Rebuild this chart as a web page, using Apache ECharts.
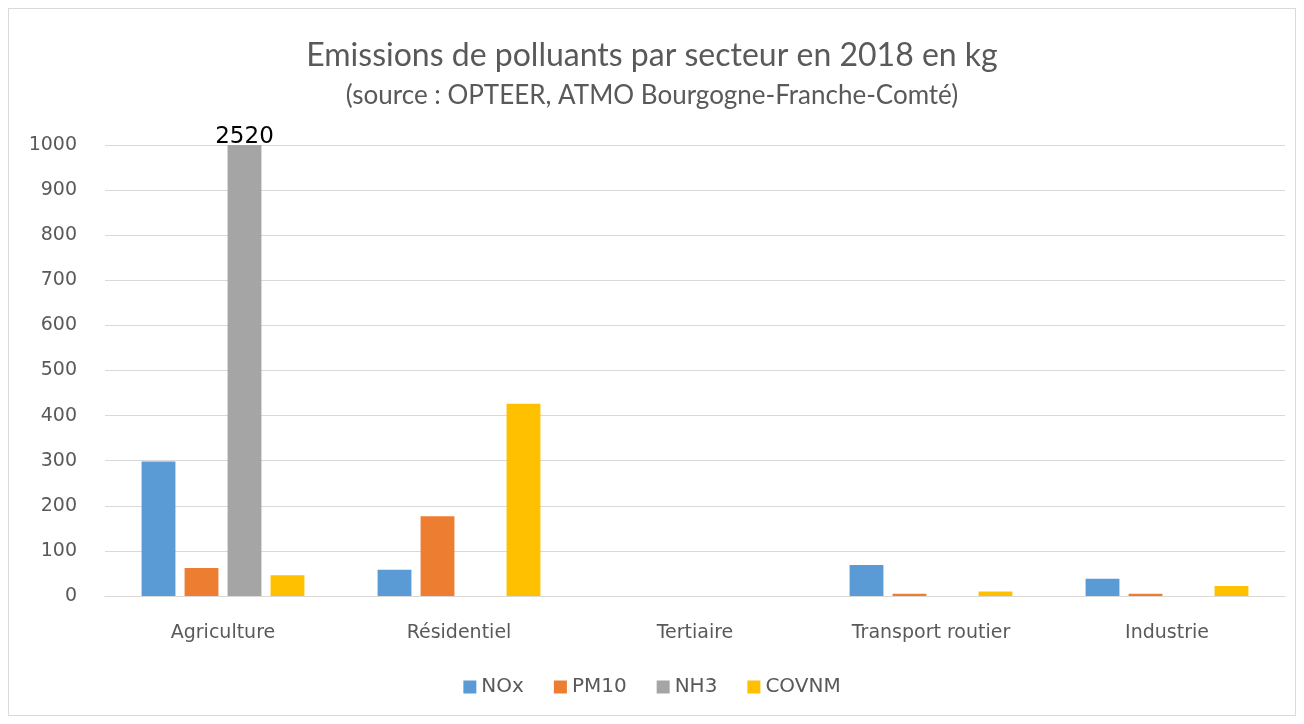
<!DOCTYPE html>
<html>
<head>
<meta charset="utf-8">
<script src="https://cdn.jsdelivr.net/npm/echarts@6/dist/echarts.min.js"></script>
<style>
  html, body { margin: 0; padding: 0; background: #ffffff; }
  #frame { position: absolute; left: 8px; top: 8px; width: 1288px; height: 708px; border: 1px solid #d9d9d9; box-sizing: border-box; }
  #chart { position: absolute; left: 0; top: 0; width: 1304px; height: 724px; }
</style>
</head>
<body>
<div id="frame"></div>
<div id="chart"></div>
<script>
// Sectors and pollutant emissions (kg), 2018
const categories = ['Agriculture', 'Résidentiel', 'Tertiaire', 'Transport routier', 'Industrie'];
const nox   = [298, 58, 0, 69, 38];
const pm10  = [62, 177, 0, 5, 5];
const nh3   = [2520, 0, 0, 0, 0];
const covnm = [46, 426, 0, 10, 22];
const yTicks = [0, 100, 200, 300, 400, 500, 600, 700, 800, 900, 1000];

const textColor = '#595959';
const font = 'DejaVu Sans';

// Bars above the axis maximum are cut at the top; the true value is printed on the cut bar
function withOverflowLabel(values) {
  return values.map(v => v > yTicks[yTicks.length - 1]
    ? { value: v, label: { show: true, position: 'top', distance: -4, color: '#000', fontSize: 23, fontFamily: 'DejaVu Sans', formatter: String(v) } }
    : v);
}

const chart = echarts.init(document.getElementById('chart'));
chart.setOption({
  animation: false,
  title: [
    { text: 'Emissions de polluants par secteur en 2018 en kg', left: 'center', top: 35,
      textStyle: { color: textColor, fontSize: 32, fontWeight: 'normal', fontFamily: 'Lato' } },
    { text: '(source : OPTEER, ATMO Bourgogne-Franche-Comté)', left: 'center', top: 78,
      textStyle: { color: textColor, fontSize: 26, fontWeight: 'normal', fontFamily: 'Lato' } }
  ],
  legend: {
    bottom: 22, left: 'center', itemWidth: 13, itemHeight: 13, itemGap: 30,
    icon: 'rect',
    textStyle: { color: textColor, fontSize: 20, fontFamily: font }
  },
  grid: { left: 105, right: 19, top: 145, bottom: 128, containLabel: false },
  xAxis: {
    type: 'category', data: categories,
    axisLine: { lineStyle: { color: '#d9d9d9' } },
    axisTick: { show: false },
    axisLabel: { color: textColor, fontSize: 19, fontFamily: font, margin: 28 }
  },
  yAxis: {
    type: 'value', min: yTicks[0], max: yTicks[yTicks.length - 1], interval: 100,
    axisLine: { show: false }, axisTick: { show: false },
    splitLine: { lineStyle: { color: '#d9d9d9' } },
    axisLabel: { color: textColor, fontSize: 19, fontFamily: font, margin: 28, formatter: v => String(v) }
  },
  series: [
    { name: 'NOx', type: 'bar', data: nox, itemStyle: { color: '#5B9BD5' }, barGap: '27%', barCategoryGap: '31%' },
    { name: 'PM10', type: 'bar', data: pm10, itemStyle: { color: '#ED7D31' } },
    { name: 'NH3', type: 'bar', data: withOverflowLabel(nh3), itemStyle: { color: '#A5A5A5' }, clip: true },
    { name: 'COVNM', type: 'bar', data: covnm, itemStyle: { color: '#FFC000' } }
  ]
});
</script>
</body>
</html>
